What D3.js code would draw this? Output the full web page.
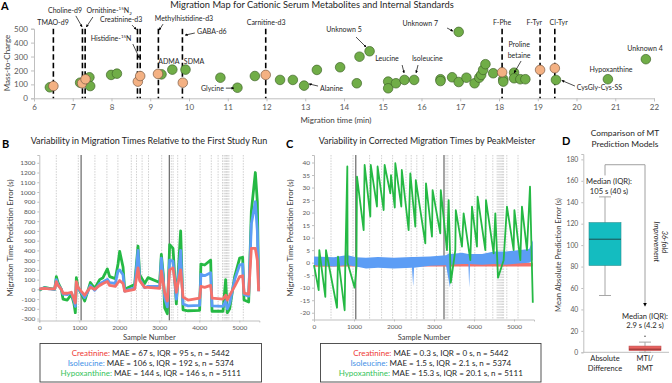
<!DOCTYPE html>
<html>
<head>
<meta charset="utf-8">
<script src="https://cdn.jsdelivr.net/npm/d3@7"></script>
<style>
  body { margin: 0; background: #fff; }
  svg { font-family: Lato, "Open Sans", sans-serif; }
</style>
</head>
<body>
<script>
// ---------- data ----------
// panel A: migration time (min), m/z
const aMetabolites = [[6.41,79],[7.19,112],[7.43,151],[7.45,88],[7.99,168],[8.14,177],[9.29,172],[9.57,206],[9.91,206],
  [10.81,148],[11.25,76],[11.70,160],[12.35,132],[12.68,132],[12.97,91],[13.30,204],[13.90,223],[14.33,108],[14.40,299],
  [14.66,338],[15.14,120],[15.14,72],[15.34,108],[15.56,132],[15.81,132],[16.49,137],[16.49,124],[16.79,151],[16.96,477],
  [16.96,117],[17.16,148],[17.37,108],[17.49,148],[17.54,168],[17.59,204],[17.65,245],[17.85,180],[18.11,137],[18.11,120],
  [18.39,184],[18.39,144],[18.55,137],[18.68,137],[19.47,132],[20.81,137],[21.79,281]]
const aStandards = [[6.50,88],[7.24,108],[7.33,137],[8.68,120],[8.74,160],[9.20,175],[9.84,112],[11.98,168],
  [18.08,187],[19.06,204],[19.44,216]]
const aStdLines = [6.50,7.25,7.32,8.67,8.74,9.21,9.83,11.98,18.08,19.06,19.44]

// panel B: sample number, error (s)
const bSample = [0,130,250,384,426,468,551,593,700,801,868,901,926,968,1051,1134,1218,1276,1384,1509,1593,1701,1759,1900,
  1968,2009,2093,2134,2384,2468,2509,2634,2718,3009,3051,3100,3134,3201,3259,3343,3426,3534,3593,3718,4009,4040,4134,4284,
  4318,4593,4659,4700,4759,4884,5009,5084,5118,5234,5301,5401,5451,5484]
const bCreatinine = [5,10,5,5,80,40,0,-40,-40,-30,-100,-140,80,20,-20,-60,-10,20,0,40,60,80,40,30,70,90,60,-20,0,220,
  90,20,20,10,190,60,-35,-120,200,220,-30,200,-80,-110,-90,30,20,40,-90,-100,-60,-110,-60,30,130,140,-40,-50,420,420,300,-20]
const bIsoleucine = [0,15,5,0,100,50,0,-50,-55,-35,-120,-175,70,15,-35,-85,-20,40,-10,60,75,103,68,60,190,200,150,-18,17,400,
  103,17,30,30,320,100,-87,-180,300,290,-100,400,-150,-170,-165,155,140,170,-170,-175,-120,-200,-150,100,250,260,-52,-70,670,900,600,-20]
const bHypoxanthine = [-10,20,10,0,130,70,0,-100,-110,-50,-150,-240,120,20,-45,-120,-10,70,10,100,120,210,130,110,260,390,230,0,50,445,
  150,60,120,70,360,150,-190,-250,460,420,-150,600,-210,-220,-215,260,250,300,-225,-225,100,-240,-200,130,320,330,-110,-130,800,1200,900,0]

// panel C: corrected errors (s)
const cHypoxanthine = [[0,-1],[117,-11],[133,5],[283,-13.7],[300,5],[575,-18],[600,2.4],[766,-19],[783,0],[833,38.4],[840,0],
  [1016,-10],[1060,-2],[1075,34.4],[1241,13],[1266,39],[1408,18.4],[1420,39],[1574,22.4],[1590,38.4],[1741,21],[1766,39],
  [1908,27.7],[1925,35],[2020,22],[2033,39.7],[2183,22.4],[2195,37],[2366,13],[2408,35.7],[2533,14.4],[2545,33],[2783,7.7],
  [2800,31.7],[2949,10.4],[2965,29],[3157,11.7],[3170,29],[3324,5],[3366,25],[3420,-8],[3533,5],[3545,21],[3699,6.4],
  [3741,19.7],[3908,1],[3950,22.4],[4074,6.4],[4090,26.4],[4283,5],[4300,25],[4491,3.7],[4533,19.7],[4600,-6],[4741,1],
  [4824,22.4],[4991,5],[5010,21],[5158,1],[5199,22.4],[5324,5],[5400,30.4],[5470,-16]]
const cIsoleucine = [[0,-1,2.5],[500,-1.5,2.2],[800,-1,3],[830,-1,7],[845,-1,3],[1050,-1.5,2.2],[1300,-2.3,2],[1600,-2,2.3],
  [2000,-2.3,2],[2450,-2,2.3],[2480,-9.5,2.3],[2500,-2,2.3],[2900,-1.2,2.5],[3300,-1,3],[3400,-10,4],[3430,-0.8,3.5],[3700,-0.5,4],
  [3860,-0.5,3.5],[3880,-10,3.5],[3900,-0.5,3.5],[4200,-0.8,3.5],[4500,-0.5,4.5],[4800,-0.8,4.5],[5100,-0.3,5],[5380,0,5.5],[5470,1,9]]
const cCreatinine = [[0,-1.6,0],[1050,-1.5,0],[3300,-1.5,0],[5470,-1.5,0]]

// batch boundaries (sample numbers)
const batchLines = [425,975,1390,1690,1965,2300,2430,2570,2730,3060,3300,3345,3460,3650,4020,4300,4470,4580,4620,4650,4680,4710,4740,4820,5100]
const runBreaks = [1045,3250]

const seriesNames = ['Creatinine','Isoleucine','Hypoxanthine']
const nSamples = [5442,5374,5111]
const bMAE = ['67 s','106 s','144 s'], bIQR = ['95 s','192 s','146 s']
const cMAE = ['0.3 s','1.5 s','15.3 s'], cIQR = ['0 s','2.1 s','20.1 s']

// panel D box stats
const dCategories = ['Absolute Difference','MTI/RMT']
const dLow = [53, 0], dQ1 = [81, 1.6], dMedian = [105.5, 2.9], dQ3 = [121, 5.8], dHigh = [145, 9.5]
const dOutliers = [[1, 15]]

// ---------- colours ----------
const lineCol = {Creatinine:'#f4716b', Isoleucine:'#5c9df5', Hypoxanthine:'#25b944'}
const textCol = {Creatinine:'#ee3a36', Isoleucine:'#3f8fe6', Hypoxanthine:'#35c35a'}

let svg = d3.select('body').append('svg').attr('width',672).attr('height',383)

// marker for arrows
svg.append('defs').append('marker').attr('id','arr')
  .attr('viewBox','0 0 10 10').attr('refX',9).attr('refY',5)
  .attr('markerWidth',4).attr('markerHeight',4).attr('orient','auto-start-reverse')
  .append('path').attr('d','M0,0L10,5L0,10z').attr('fill','#000')

const styleAxis = (g, fs) => {
  g.attr('font-family',null)
  g.select('.domain').attr('stroke','#bfbfbf')
  g.selectAll('.tick line').attr('stroke','#bfbfbf')
  g.selectAll('.tick text').attr('font-size',fs).attr('fill','#595959')
}

const panelLabel = (t,x,y) => svg.append('text').text(t).attr('x',x).attr('y',y)
  .attr('font-size',11).attr('font-weight','bold').attr('fill','#000')

// ================= PANEL A =================
let xA = d3.scaleLinear().domain([6,22]).range([34,654])
let yA = d3.scaleLinear().domain([0,500]).range([98.3,28.7])

panelLabel('A',1,10)
svg.append('text').text('Migration Map for Cationic Serum Metabolites and Internal Standards')
  .attr('x',312).attr('y',8).attr('text-anchor','middle').attr('font-size',9.3).attr('fill','#262626')

let axA = svg.append('g').attr('transform','translate(0,98.3)')
  .call(d3.axisBottom(xA).tickValues(d3.range(6,23)).tickSize(3).tickFormat(d=>d))
styleAxis(axA,8)
let ayA = svg.append('g').attr('transform','translate(34,0)')
  .call(d3.axisLeft(yA).tickValues(d3.range(0,501,100)).tickSize(3).tickFormat(d=>d))
styleAxis(ayA,8)
svg.append('text').text('Migration time (min)').attr('x',336).attr('y',123)
  .attr('text-anchor','middle').attr('font-size',8).attr('fill','#404040')
svg.append('text').text('Mass-to-Charge').attr('transform','translate(10,63) rotate(-90)')
  .attr('text-anchor','middle').attr('font-size',8).attr('fill','#404040')

svg.append('g').selectAll('line').data(aStdLines).join('line')
  .attr('x1',d=>xA(d)).attr('x2',d=>xA(d)).attr('y1',yA(500)).attr('y2',yA(0))
  .attr('stroke','#000').attr('stroke-width',1.6).attr('stroke-dasharray','5.5,3')

svg.append('g').selectAll('circle').data(aMetabolites).join('circle')
  .attr('cx',d=>xA(d[0])).attr('cy',d=>yA(d[1])).attr('r',4.8)
  .attr('fill','#70ad47').attr('stroke','#41662a').attr('stroke-width',0.7)
svg.append('g').selectAll('circle').data(aStandards).join('circle')
  .attr('cx',d=>xA(d[0])).attr('cy',d=>yA(d[1])).attr('r',4.8)
  .attr('fill','#f4b183').attr('stroke','#7a5a44').attr('stroke-width',0.7)

// labels: text, t, mz, anchor
const aLabels = [
  ['TMAO-d9',6.49,526,'middle'],['Choline-d9',6.80,612,'middle'],['Creatinine-d3',8.25,548,'middle'],
  ['Methylhistidine-d3',9.87,555,'middle'],['GABA-d6',10.59,462,'middle'],['Carnitine-d3',11.99,526,'middle'],
  ['ADMA',9.48,246,'middle'],['SDMA',10.13,246,'middle'],['Glycine',10.90,52,'end'],['Alanine',13.38,52,'start'],
  ['Unknown 5',14.0,476,'middle'],['Unknown 7',15.97,519,'middle'],['Leucine',15.11,268,'middle'],
  ['Isoleucine',16.15,268,'middle'],['F-Phe',18.08,526,'middle'],['F-Tyr',18.91,526,'middle'],['Cl-Tyr',19.54,526,'middle'],
  ['Proline',18.52,368,'middle'],['betaine',18.52,289,'middle'],['Unknown 4',21.77,340,'middle'],
  ['Hypoxanthine',20.89,189,'middle'],['CysGly-Cys-SS',20.59,60,'middle']]
svg.append('g').selectAll('text').data(aLabels).join('text')
  .text(d=>d[0]).attr('x',d=>xA(d[1])).attr('y',d=>yA(d[2])).attr('text-anchor',d=>d[3])
  .attr('font-size',7).attr('fill','#262626')

// isotope labels with super/subscripts
let orn = svg.append('text').attr('x',xA(7.94)).attr('y',yA(612)).attr('text-anchor','middle')
  .attr('font-size',7).attr('fill','#262626')
orn.append('tspan').text('Ornithine-')
orn.append('tspan').text('15').attr('font-size',4.5).attr('dy',-3)
orn.append('tspan').text('N').attr('dy',3)
orn.append('tspan').text('2').attr('font-size',4.5).attr('dy',1.5)
let his = svg.append('text').attr('x',xA(7.99)).attr('y',yA(411)).attr('text-anchor','middle')
  .attr('font-size',7).attr('fill','#262626')
his.append('tspan').text('Histidine-')
his.append('tspan').text('15').attr('font-size',4.5).attr('dy',-3)
his.append('tspan').text('N').attr('dy',3)

const aArrows = [[7.08,592,7.24,513],[7.52,584,7.35,512],[8.53,526,8.64,494],[8.55,390,8.72,289],
  [9.33,533,9.23,490],[10.15,469,9.90,454],[10.95,73,11.16,73],[13.33,88,13.10,103],[14.31,440,14.57,368],
  [16.66,505,16.81,483],[15.50,239,15.55,182],[15.91,239,15.86,182],[18.57,268,18.39,182],[19.96,88,19.62,128]]
svg.append('g').selectAll('line').data(aArrows).join('line')
  .attr('x1',d=>xA(d[0])).attr('y1',d=>yA(d[1])).attr('x2',d=>xA(d[2])).attr('y2',d=>yA(d[3]))
  .attr('stroke','#000').attr('stroke-width',0.7).attr('marker-end','url(#arr)')

// ================= PANELS B & C =================
const drawRunPanel = (cfg) => {
  let g = svg.append('g')
  let x = d3.scaleLinear().domain([0,5500]).range(cfg.xr)
  let y = d3.scaleLinear().domain(cfg.yd).range([cfg.yb,155])
  g.selectAll('.batch').data(batchLines).join('line').classed('batch',true)
    .attr('x1',d=>x(d)).attr('x2',d=>x(d)).attr('y1',155).attr('y2',cfg.yb)
    .attr('stroke','#c4c4c4').attr('stroke-width',0.8).attr('stroke-dasharray','1.5,1.2')
  g.selectAll('.brk').data(runBreaks).join('line').classed('brk',true)
    .attr('x1',d=>x(d)).attr('x2',d=>x(d)).attr('y1',155).attr('y2',cfg.yb)
    .attr('stroke','#5a5a5a').attr('stroke-width',1.1)
  let ax = g.append('g').attr('transform','translate(0,'+cfg.yb+')')
    .call(d3.axisBottom(x).tickValues(d3.range(0,5001,1000)).tickSize(2).tickFormat(d=>d))
  styleAxis(ax,6.5)
  let ay = g.append('g').attr('transform','translate('+cfg.xr[0]+',0)')
    .call(d3.axisLeft(y).tickValues(cfg.ticks).tickSize(2).tickFormat(d=>String(d)))
  styleAxis(ay,6.5)
  ay.selectAll('.tick text').attr('dx',1)
  g.append('text').text('Sample Number').attr('x',(cfg.xr[0]+cfg.xr[1])/2).attr('y',340)
    .attr('text-anchor','middle').attr('font-size',7.5).attr('fill','#404040')
  g.append('text').text('Migration Time Prediction Error (s)')
    .attr('transform','translate('+cfg.ylx+',238) rotate(-90)')
    .attr('text-anchor','middle').attr('font-size',7.8).attr('fill','#404040')
  g.append('text').text(cfg.title).attr('x',cfg.tx).attr('y',144)
    .attr('text-anchor','middle').attr('font-size',cfg.tfs).attr('fill','#262626')
  cfg.draw(g,x,y)
  // stats box
  g.append('rect').attr('x',cfg.box[0]).attr('y',343.5).attr('width',cfg.box[1]-cfg.box[0]).attr('height',38.5)
    .attr('fill','#fff').attr('stroke','#404040').attr('stroke-width',0.9)
  seriesNames.forEach((s,i) => {
    let t = g.append('text').attr('x',(cfg.box[0]+cfg.box[1])/2).attr('y',355.5+i*10.3)
      .attr('text-anchor','middle').attr('font-size',8).attr('fill','#262626')
    t.append('tspan').text(s+':').attr('fill',textCol[s])
    t.append('tspan').text(' MAE = '+cfg.mae[i]+', IQR = '+cfg.iqr[i]+', n = '+nSamples[i])
  })
}

panelLabel('B',2,148)
drawRunPanel({
  xr:[39.3,259.3], yd:[-320,1380], yb:320.5, ticks:d3.range(-300,1301,100), ylx:13,
  title:'Variability in Migration Times Relative to the First Study Run', tx:149, tfs:9,
  mae:bMAE, iqr:bIQR, box:[40,261.5],
  draw:(g,x,y) => {
    const series = [['Hypoxanthine',bHypoxanthine],['Isoleucine',bIsoleucine],['Creatinine',bCreatinine]]
    series.forEach(([name,vals]) => {
      let line = d3.line().x((d,i)=>x(bSample[i])).y(d=>y(d))
      g.append('path').attr('d',line(vals)).attr('fill','none')
        .attr('stroke',lineCol[name]).attr('stroke-width',2.8).attr('stroke-linejoin','round')
    })
  }
})

panelLabel('C',286,148)
drawRunPanel({
  xr:[314,534], yd:[-22.7,43], yb:319.5, ticks:d3.range(-20,41,5), ylx:293,
  title:'Variability in Corrected Migration Times by PeakMeister', tx:427, tfs:8.9,
  mae:cMAE, iqr:cIQR, box:[320.5,541],
  draw:(g,x,y) => {
    let band = d3.area().x(d=>x(d[0])).y0(d=>y(d[1])).y1(d=>y(d[2]))
    g.append('path').attr('d',band(cCreatinine)).attr('fill',lineCol.Creatinine)
    g.append('path').attr('d',band(cIsoleucine)).attr('fill',lineCol.Isoleucine)
    let line = d3.line().x(d=>x(d[0])).y(d=>y(d[1]))
    g.append('path').attr('d',line(cHypoxanthine)).attr('fill','none')
      .attr('stroke',lineCol.Hypoxanthine).attr('stroke-width',1.8).attr('stroke-linejoin','round')
  }
})

// ================= PANEL D =================
let xD = d3.scaleBand().domain(dCategories).range([581,669]).padding(0.2)
let yD = d3.scaleLinear().domain([0,185]).range([352.3,154])
panelLabel('D',562,145)
svg.append('text').attr('x',625).attr('y',136).attr('text-anchor','middle').attr('font-size',8.4).attr('fill','#262626')
  .selectAll('tspan').data(['Comparison of MT','Prediction Models']).join('tspan')
  .attr('x',625).attr('dy',(d,i)=>i?11:0).text(d=>d)

let ayD = svg.append('g').attr('transform','translate(583.3,0)')
  .call(d3.axisLeft(yD).tickValues(d3.range(0,181,20)).tickSize(2).tickFormat(d=>d))
styleAxis(ayD,6.8)
svg.append('line').attr('x1',583.3).attr('x2',669).attr('y1',yD(0)).attr('y2',yD(0)).attr('stroke','#bfbfbf')
svg.append('text').text('Mean Absolute Prediction Error (s)').attr('transform','translate(561,255) rotate(-90)')
  .attr('text-anchor','middle').attr('font-size',7.6).attr('fill','#404040')

const catLines = [['Absolute','Difference'],['MTI/','RMT']]
dCategories.forEach((c,i) => {
  let cx = xD(c)+xD.bandwidth()/2, w = xD.bandwidth()
  svg.append('line').attr('x1',cx).attr('x2',cx).attr('y1',yD(dLow[i])).attr('y2',yD(dHigh[i]))
    .attr('stroke','#a6a6a6').attr('stroke-width',1)
  ;[dLow[i],dHigh[i]].forEach(v => svg.append('line').attr('x1',cx-6).attr('x2',cx+6)
    .attr('y1',yD(v)).attr('y2',yD(v)).attr('stroke','#a6a6a6'))
  svg.append('rect').attr('x',cx-w/2).attr('width',w).attr('y',yD(dQ3[i])).attr('height',yD(dQ1[i])-yD(dQ3[i]))
    .attr('fill',i?'#e8625f':'#14bcc0').attr('stroke',i?'#c05050':'#2a8f90').attr('stroke-width',0.6)
  svg.append('line').attr('x1',cx-w/2).attr('x2',cx+w/2).attr('y1',yD(dMedian[i])).attr('y2',yD(dMedian[i]))
    .attr('stroke',i?'#8a3030':'#1f4e50').attr('stroke-width',1)
  svg.append('text').attr('text-anchor','middle').attr('font-size',7.5).attr('fill','#262626')
    .selectAll('tspan').data(catLines[i]).join('tspan').attr('x',cx).attr('y',(d,j)=>361+j*10).text(d=>d)
})
svg.selectAll('.outl').data(dOutliers).join('circle').attr('class','outl')
  .attr('cx',d=>xD(dCategories[d[0]])+xD.bandwidth()/2).attr('cy',d=>yD(d[1])).attr('r',0.8).attr('fill','#555')

// median annotations
const dNotes = [[0,157,'Median (IQR):'],[0,147.6,'105 s (40 s)'],[1,31.5,'Median (IQR):'],[1,22.7,'2.9 s (4.2 s)']]
svg.append('g').selectAll('text').data(dNotes).join('text')
  .attr('x',d=>xD(dCategories[d[0]])+xD.bandwidth()/2+(d[0]?0:4)).attr('y',d=>yD(d[1]))
  .attr('text-anchor','middle').attr('font-size',7.6).attr('fill','#262626').text(d=>d[2])

// improvement bracket
let c0 = xD(dCategories[0])+xD.bandwidth()/2, c1 = xD(dCategories[1])+xD.bandwidth()/2
svg.append('path').attr('d',d3.line()([[c0,yD(165)],[c0,yD(175)],[c1,yD(175)],[c1,yD(43)]]))
  .attr('fill','none').attr('stroke','#a0a0a0').attr('stroke-width',1).attr('marker-end','url(#arr)')
let imp = svg.append('text').attr('transform','translate(662,'+yD(103)+') rotate(90)')
  .attr('text-anchor','middle').attr('font-size',7.4).attr('font-style','italic').attr('fill','#262626')
imp.append('tspan').attr('x',0).attr('y',0).text('36-fold')
imp.append('tspan').attr('x',0).attr('y',8.5).text('Improvement')
</script>
</body>
</html>
